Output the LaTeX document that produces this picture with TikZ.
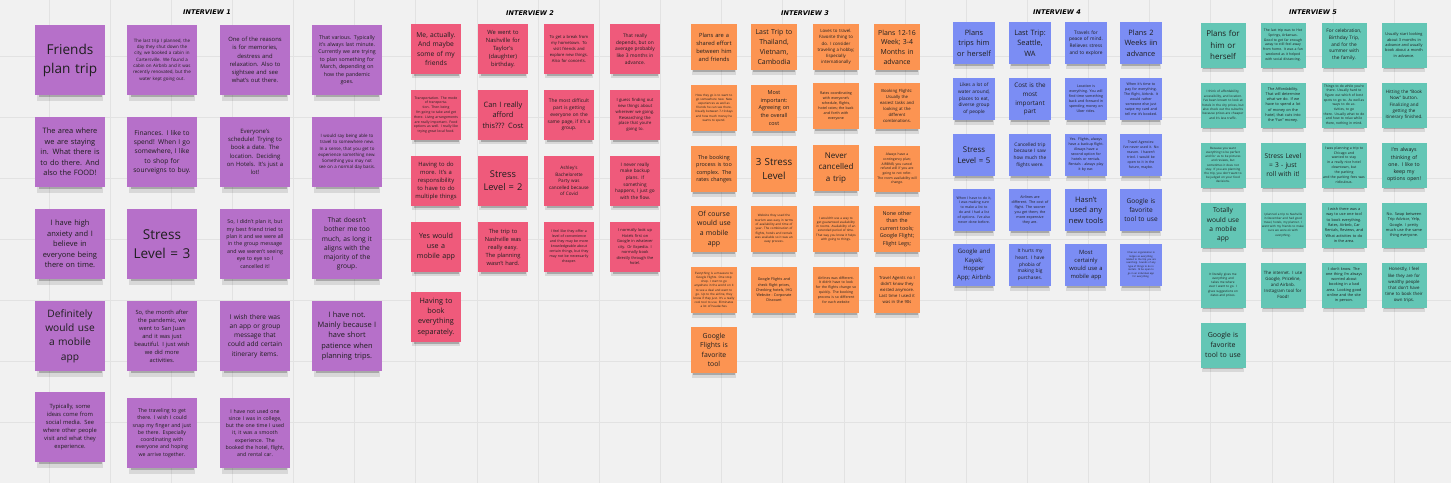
\documentclass[tikz,border=0pt]{standalone}
\usepackage{fontspec}
\setmainfont{Open Sans}
\newfontfamily\hdrfont{DejaVu Sans}
\usetikzlibrary{shadows}
\definecolor{bgc}{HTML}{F1F1F1}
\definecolor{gridc}{HTML}{E2E2E2}
\definecolor{cPur}{HTML}{B670C9}
\definecolor{cRed}{HTML}{EF5A7B}
\definecolor{cOra}{HTML}{FC9452}
\definecolor{cBlu}{HTML}{7B8DF4}
\definecolor{cTea}{HTML}{63C6B5}
\definecolor{txt}{HTML}{1E1E1E}
\newcommand\stk[5]{\node[#1,ls=#4] (#2) at (#3) {#5};}
\begin{document}
\begin{tikzpicture}[x=1pt,y=-1pt,
 ls/.style={font=\fontsize{\fpeval{round(#1/1.4,2)}}{#1}\selectfont},
 notebase/.style={rectangle, inner sep=0pt, align=center, text=txt},
 shA/.style={drop shadow={fill=black, opacity=0.10, shadow scale=0.95, shadow xshift=0pt, shadow yshift=-8pt},
             drop shadow={fill=black, opacity=0.22, shadow scale=0.90, shadow xshift=0pt, shadow yshift=-6pt}},
 shB/.style={drop shadow={fill=black, opacity=0.10, shadow scale=0.95, shadow xshift=0pt, shadow yshift=-6pt},
             drop shadow={fill=black, opacity=0.22, shadow scale=0.90, shadow xshift=0pt, shadow yshift=-4.5pt}},
 nA/.style={notebase, shA, fill=cPur, minimum width=70pt, minimum height=70pt, text width=65pt},
 nB/.style={notebase, shB, fill=cRed, minimum width=50pt, minimum height=50pt, text width=46pt},
 nC/.style={notebase, shB, fill=cOra, minimum width=46pt, minimum height=46pt, text width=43pt},
 nD/.style={notebase, shB, fill=cBlu, minimum width=42pt, minimum height=42pt, text width=39pt},
 nE/.style={notebase, shB, fill=cTea, minimum width=45pt, minimum height=45pt, text width=42pt},
 hdr/.style={font={\hdrfont\fontsize{6.5}{8}\selectfont\bfseries\itshape}, text=black, inner sep=1pt},
 gridln/.style={draw=gridc, line width=0.9pt}
]
\fill[bgc] (0,0) rectangle (1451,483);
\useasboundingbox (0,0) rectangle (1451,483);
\foreach \k in {0,...,23} \draw[gridln] ({49+61.15*\k},0) -- ({49+61.15*\k},483);
\foreach \y in {56,117,178,239,300,361,422} \draw[gridln] (0,\y) -- (1451,\y);

% headers
\node[hdr] (h1) at (207,12) {INTERVIEW 1};
\node[hdr] (h2) at (530,13) {INTERVIEW 2};
\node[hdr] (h3) at (805,13) {INTERVIEW 3};
\node[hdr] (h4) at (1057,12) {INTERVIEW 4};
\node[hdr] (h5) at (1313,12) {INTERVIEW 5};

% Interview 1
\stk{nA}{a11}{70,60}{19}{Friends\\plan trip}
\stk{nA}{a12}{70,152}{10.4}{The area where\\we are staying\\in. What there is\\to do there. And\\also the FOOD!}
\stk{nA}{a13}{70,244}{10.5}{I have high\\anxiety and I\\believe in\\everyone being\\there on time.}
\stk{nA}{a14}{70,336}{14.3}{Definitely\\would use\\a mobile\\app}
\stk{nA}{a15}{70,427}{8.1}{Typically, some\\ideas come from\\social media. See\\where other people\\visit and what they\\experience.}
\stk{nA}{a21}{162,60}{6.3}{The last trip I planned, the\\day they shut down the\\city, we booked a cabin in\\Cartersville. We found a\\cabin on Airbnb and it was\\recently renovated, but the\\water kept going out.}
\stk{nA}{a22}{162,152}{9.3}{Finances. I like to\\spend! When I go\\somewhere, I like\\to shop for\\sourveigns to buy.}
\stk{nA}{a23}{162,244}{19}{Stress\\Level = 3}
\stk{nA}{a24}{162,336}{8}{So, the month after\\the pandemic, we\\went to San Juan\\and it was just\\beautiful. I just wish\\we did more\\activities.}
\stk{nA}{a25}{162,433}{7.3}{The traveling to get\\there. I wish I could\\snap my finger and just\\be there. Especially\\coordinating with\\everyone and hoping\\we arrive together.}
\stk{nA}{a31}{255,60}{8.2}{One of the reasons\\is for memories,\\destress and\\relaxation. Also to\\sightsee and see\\what's out there.}
\stk{nA}{a32}{255,152}{8.3}{Everyone's\\schedule! Trying to\\book a date. The\\location. Deciding\\on Hotels. It's just a\\lot!}
\stk{nA}{a33}{255,244}{7.4}{So, I didn't plan it, but\\my best friend tried to\\plan it and we were all\\in the group message\\and we weren't seeing\\eye to eye so I\\cancelled it!}
\stk{nA}{a34}{255,336}{9.2}{I wish there was\\an app or group\\message that\\could add certain\\itinerary items.}
\stk{nA}{a35}{255,433}{7.3}{I have not used one\\since I was in college,\\but the one time I used\\it, it was a smooth\\experience. The\\booked the hotel, flight,\\and rental car.}
\stk{nA}{a41}{347,60}{7.4}{That various. Typically\\it's always last minute.\\Currently we are trying\\to plan something for\\March, depending on\\how the pandemic\\goes.}
\stk{nA}{a42}{347,152}{6.2}{I would say being able to\\travel to somewhere new.\\In a sense, that you get to\\experience something new.\\Something you may not\\see on a normal day basis.}
\stk{nA}{a43}{347,244}{9.3}{That doesn't\\bother me too\\much, as long it\\aligns with the\\majority of the\\group.}
\stk{nA}{a44}{347,336}{10.4}{I have not.\\Mainly because I\\have short\\patience when\\planning trips.}

% Interview 2
\stk{nB}{b11}{436,49}{9.4}{Me, actually.\\And maybe\\some of my\\friends}
\stk{nB}{b12}{436,115}{4.8}{Transportation. The mode\\of transportation. Then being\\I'm going to take and get\\there. Living arrangements\\are really important. Food\\options as well. I really like\\trying great local food.}
\stk{nB}{b13}{436,181}{8.2}{Having to do\\more. It's a\\responsibility\\to have to do\\multiple things}
\stk{nB}{b14}{436,247}{10}{Yes would\\use a\\mobile app}
\stk{nB}{b15}{436,317}{10.2}{Having to\\book\\everything\\separately.}
\stk{nB}{b21}{503,49}{8.1}{We went to\\Nashville for\\Taylor's\\(daughter)\\birthday.}
\stk{nB}{b22}{503,115}{10.3}{Can I really\\afford\\this??? Cost}
\stk{nB}{b23}{503,181}{13}{Stress\\Level = 2}
\stk{nB}{b24}{503,247}{8}{The trip to\\Nashville was\\really easy.\\The planning\\wasn't hard.}
\stk{nB}{b31}{569,49}{5.8}{To get a break from\\my hometown. To\\visit friends and\\explore new things.\\Also for concerts.}
\stk{nB}{b32}{569,115}{6.8}{The most difficult\\part is getting\\everyone on the\\same page, if it's a\\group.}
\stk{nB}{b33}{569,181}{6.5}{Ashley's\\Bachelorette\\Party was\\cancelled because\\of Covid}
\stk{nB}{b34}{569,247}{5}{I feel like they offer a\\level of convenience\\and they may be more\\knowledgeable about\\certain things, but they\\may not be necessarily\\cheaper.}
\stk{nB}{b41}{635,49}{6.8}{That really\\depends, but on\\average probably\\like 3 months in\\advance.}
\stk{nB}{b42}{635,115}{5.9}{I guess finding out\\new things about\\wherever we going.\\Researching the\\place that you're\\going to.}
\stk{nB}{b43}{635,181}{6.6}{I never really\\make backup\\plans. If\\something\\happens, I just go\\with the flow.}
\stk{nB}{b44}{635,247}{5.5}{I normally look up\\Hotels first on\\Google in whatever\\city. Or Expedia. I\\normally book\\directly through the\\hotel.}

% Interview 3
\stk{nC}{c11}{714,47}{8}{Plans are a\\shared effort\\between him\\and friends}
\stk{nC}{c12}{714,108}{4.2}{How they go is to want to\\go somewhere new. New\\experiences as well as\\friends he can see there.\\Usually between 7-10 days\\and how much money he\\wants to spend.}
\stk{nC}{c13}{714,169}{7.6}{The booking\\process is too\\complex. The\\rates changes}
\stk{nC}{c14}{714,229}{9.7}{Of course\\would use\\a mobile\\app}
\stk{nC}{c15}{714,290}{4.2}{Everything is a measure to\\Google Flights. One stop\\shop. I start to go\\anywhere in the world on it\\to see a deal and want to\\go. Up to the airline, they\\know if they just. It's a really\\cool tool to use. Eliminates\\a lot of headaches.}
\stk{nC}{c16}{714,350}{9.6}{Google\\Flights is\\favorite\\tool}
\stk{nC}{c21}{774,47}{9.7}{Last Trip to\\Thailand,\\Vietnam,\\Cambodia}
\stk{nC}{c22}{774,108}{7.6}{Most\\important:\\Agreeing on\\the overall\\cost}
\stk{nC}{c23}{774,169}{13.7}{3 Stress\\Level}
\stk{nC}{c24}{774,229}{4.3}{Website they used the\\tourism was easy in terms\\of availability and time of\\year. The combination of\\flights, hotels and rentals\\was available so it was an\\easy process.}
\stk{nC}{c25}{774,290}{5.2}{Google Flights and\\check flight prices,\\Checking hotels, IHG\\Website - Corporate\\Discount}
\stk{nC}{c31}{836,47}{6.1}{Loves to travel.\\Favorite thing to\\do. I consider\\traveling a hobby;\\Especially\\internationally}
\stk{nC}{c32}{836,106}{5.1}{Rates coordinating\\with everyone's\\schedule, flights,\\hotel rates; the back\\and forth with\\everyone}
\stk{nC}{c33}{836,168}{11.2}{Never\\cancelled\\a trip}
\stk{nC}{c34}{836,229}{4.3}{I wouldn't use a way to\\get guaranteed availability\\in rooms. Availability of an\\extended period of time.\\That way you know it helps\\with going to things.}
\stk{nC}{c35}{836,290}{4.9}{Airlines was different.\\It didn't have to look\\for the flights change so\\quickly. The booking\\process is so different\\for each website}
\stk{nC}{c41}{897,47}{9.7}{Plans 12-16\\Week; 3-4\\Months in\\advance}
\stk{nC}{c42}{897,106}{5.9}{Booking Flights:\\Usually the\\easiest tasks and\\looking at the\\different\\combinations.}
\stk{nC}{c43}{897,169}{4.7}{Always have a\\contingency plan;\\AIRBNB, you cancel\\refund will if you are\\going to not refer.\\The room availability will\\change.}
\stk{nC}{c44}{897,229}{7.5}{None other\\than the\\current tools;\\Google Flight;\\Flight Legs;}
\stk{nC}{c45}{897,290}{5.9}{Travel Agents no I\\didn't know they\\existed anymore.\\Last time I used it\\was in the 90s}

% Interview 4
\stk{nD}{d11}{974,43}{10.3}{Plans\\trips him\\or herself}
\stk{nD}{d12}{974,99}{6.7}{Likes a lot of\\water around,\\places to eat,\\diverse group\\of people}
\stk{nD}{d13}{974,155}{11}{Stress\\Level = 5}
\stk{nD}{d14}{974,210}{4.9}{When I have to do it,\\I was making sure\\to make a list to\\do and I had a list\\of options. I've also\\never done before.}
\stk{nD}{d15}{974,265}{8.4}{Google and\\Kayak;\\Hopper\\App; Airbnb}
\stk{nD}{d21}{1030,43}{10.3}{Last Trip:\\Seattle,\\WA}
\stk{nD}{d22}{1030,99}{8.8}{Cost is the\\most\\important\\part}
\stk{nD}{d23}{1030,155}{6.7}{Cancelled trip\\because I saw\\how much the\\flights were.}
\stk{nD}{d24}{1030,210}{5.1}{Airlines are\\different. The cost of\\flight. The sooner\\you get them, the\\more expensive\\they are.}
\stk{nD}{d25}{1030,265}{6.7}{It hurts my\\heart. I have\\phobia of\\making big\\purchases.}
\stk{nD}{d31}{1086,43}{6.7}{Travels for\\peace of mind.\\Relieves stress\\and to explore}
\stk{nD}{d32}{1086,99}{5}{Location is\\everything. You will\\find time something\\back and forward in\\spending money on\\Uber rides.}
\stk{nD}{d33}{1086,155}{5}{Yes. Flights, always\\have a backup flight.\\Always have a\\second option for\\hotels or rentals.\\Rentals - always play\\it by ear.}
\stk{nD}{d34}{1086,210}{10.5}{Hasn't\\used any\\new tools}
\stk{nD}{d35}{1086,265}{8.1}{Most\\certainly\\would use a\\mobile app}
\stk{nD}{d41}{1141,43}{10.3}{Plans 2\\Weeks iin\\advance}
\stk{nD}{d42}{1141,99}{5}{When it's time to\\pay for everything.\\The flight, Airbnb. It\\would rather\\someone else just\\swipe my card and\\tell me it's booked.}
\stk{nD}{d43}{1141,155}{4.9}{Travel Agencies:\\I've never used it. No\\reason. I haven't\\tried. I would be\\open to it in the\\future, maybe.}
\stk{nD}{d44}{1141,210}{9.2}{Google is\\favorite\\tool to use}
\stk{nD}{d45}{1141,265}{3.4}{It has an organization in\\lodges as everything\\related to the trip you are\\searching. Sounds of any\\type of things to do in\\rentals. I'd be open to\\go in an individual app\\for everything.}

% Interview 5
\stk{nE}{e11}{1223,45}{11.2}{Plans for\\him or\\herself}
\stk{nE}{e12}{1223,105}{4.4}{I think of affordability,\\accessibility, and location.\\I've been known to look at\\hotels in the city prices, but\\also check out the suburbs\\because prices are cheaper\\and it's less traffic.}
\stk{nE}{e13}{1223,165}{4.2}{Because you want\\everything to be perfect\\and for us to be pictures\\and reviews, but\\sometimes it does not\\stay. If you are planning\\the trip, you don't want to\\be judged on your food\\decisions.}
\stk{nE}{e14}{1223,225}{9.3}{Totally\\would use\\a mobile\\app}
\stk{nE}{e15}{1223,285}{4.3}{It literally gives me\\everything and\\takes me where\\ever I want to go. I\\gives suggestions on\\dates and prices.}
\stk{nE}{e16}{1223,345}{9.8}{Google is\\favorite\\tool to use}
\stk{nE}{e21}{1283,45}{4.8}{The last trip was to Hot\\Springs, Arkansas.\\Good to get far enough\\away to still feel away\\from home. It was a fun\\weekend as it helped\\with social distancing.}
\stk{nE}{e22}{1283,105}{5.3}{The Affordability.\\That will determine\\what we do. If we\\have to spend a lot\\of money on the\\hotel, that cuts into\\the “fun” money.}
\stk{nE}{e23}{1283,165}{9.3}{Stress Level\\= 3 - just\\roll with it!}
\stk{nE}{e24}{1283,225}{4.1}{I planned a trip to Nashville\\in December and had good\\travel, hotels, my planner. I\\went with my friends to make\\sure we were ok with\\everything.}
\stk{nE}{e25}{1283,285}{6.1}{The internet. I use\\Google, Priceline,\\and Airbnb.\\Instagram tool for\\Food!}
\stk{nE}{e31}{1344,45}{6.7}{For celebration,\\Birthday Trip,\\and for the\\summer with\\the family.}
\stk{nE}{e32}{1344,105}{4.7}{Things to do while you're\\there. Usually hard to\\figure out which of best\\spots to go to. As well as\\ways to do activities, to go\\there. Usually what to do\\and how to relax while\\there, nothing in mind.}
\stk{nE}{e33}{1344,165}{4.9}{I was planning a trip to\\Chicago and wanted to stay\\in a really nice hotel\\downtown, but the parking\\and the parking fees was\\ridiculous.}
\stk{nE}{e34}{1344,225}{5.3}{I wish there was a\\way to use one tool\\to book everything.\\Rates, Airbnb, Car\\Rentals, Reviews, and\\What activities to do\\in the area.}
\stk{nE}{e35}{1344,285}{5.3}{I don't know. The\\one thing I'm always\\worried about\\booking in a bad\\area. Looking good\\online and the site\\in person.}
\stk{nE}{e41}{1404,45}{5.4}{Usually start looking\\about 3 months in\\advance and usually\\book about a month\\in advance.}
\stk{nE}{e42}{1404,105}{6.3}{Hitting the “Book\\Now” button.\\Finalizing and\\getting the\\itinerary finished.}
\stk{nE}{e43}{1404,165}{7.3}{I'm always\\thinking of\\one. I like to\\keep my\\options open!}
\stk{nE}{e44}{1404,225}{5.4}{No. Swap between\\Trip Advisor, Yelp,\\Google. I pretty\\much use the same\\thing everyone.}
\stk{nE}{e45}{1404,285}{6.1}{Honestly, I feel\\like they are for\\wealthy people\\that don't have\\time to book their\\own trips.}
\end{tikzpicture}
\end{document}
